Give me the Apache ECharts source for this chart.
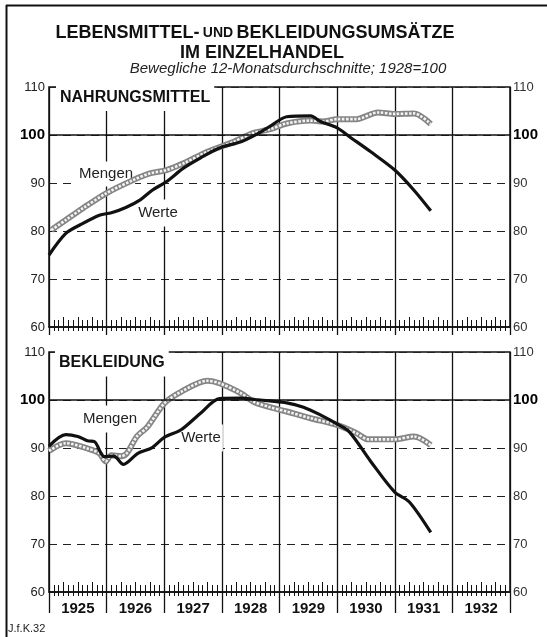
<!DOCTYPE html>
<html>
<head>
<meta charset="utf-8">
<script src="https://cdn.jsdelivr.net/npm/echarts@6/dist/echarts.min.js"></script>
<style>
  html, body { margin: 0; padding: 0; background: #fff; }
  #chart { width: 547px; height: 637px; }
</style>
</head>
<body>
<div id="chart"></div>
<script>
// months counted from Jan 1925
const years = ['1925', '1926', '1927', '1928', '1929', '1930', '1931', '1932'];

// Nahrungsmittel
const foodWerteMonths = [0, 3.5, 6.5, 10.5, 13, 16, 19, 21.5, 24.5, 28, 31.5, 35.5, 40, 43.5, 46, 49.5, 54.5, 56.5, 60, 62.5, 67, 72, 76, 79.5];
const foodWerte = [75, 79.5, 81.3, 83.3, 83.8, 84.9, 86.5, 88.5, 90.3, 93.1, 95.2, 97.3, 98.6, 100.3, 101.8, 103.8, 104, 102.8, 101.5, 99.7, 96.5, 92.7, 88.5, 84.2];
const foodMengenMonths = [0.5, 3.5, 7, 12, 17.5, 21, 24.5, 28, 33, 38.5, 42.5, 46, 49.5, 54.5, 57, 60, 64, 68.5, 72, 76, 79.5];
const foodMengen = [80.2, 82.3, 84.7, 87.9, 90.6, 92, 92.7, 94.1, 96.5, 98.6, 100.4, 101.2, 102.4, 103, 102.8, 103.3, 103.3, 104.7, 104.4, 104.5, 102.3];

// Bekleidung
const clothWerteMonths = [0, 3.5, 6, 8, 9.5, 11.5, 13.5, 15.5, 18.5, 21.5, 24, 27.5, 31.5, 35.5, 40, 43, 46, 49.5, 53, 56.5, 60, 62.5, 67, 72, 75, 79.5];
const clothWerte = [90.4, 92.8, 92.4, 91.5, 91.3, 88.2, 88.3, 86.6, 88.9, 90.1, 92.2, 93.8, 97.2, 100.3, 100.4, 100.1, 99.8, 99.4, 98.5, 96.9, 95, 93.4, 87.2, 80.8, 78.8, 72.4];
const clothMengenMonths = [0, 3.5, 8, 10.5, 11.8, 13, 15, 16.2, 18.3, 20.5, 24, 27.5, 33, 35.5, 40, 42.5, 46, 49.5, 54.5, 60, 64, 66.5, 72, 76, 79.5];
const clothMengen = [89.4, 91, 89.9, 88.9, 87.2, 88.5, 88.3, 88.9, 92.4, 94.4, 99.3, 101.7, 104, 103.5, 101.4, 99.7, 98.5, 97.6, 96.2, 94.8, 93.1, 91.8, 91.8, 92.4, 90.6];

const FONT = '"Liberation Sans", Arial, sans-serif';
const INK = '#111';

function pairs(xs, ys) {
  return xs.map((x, i) => [x, ys[i]]);
}

let xAxes = [], yAxes = [], series = [];

function addPanel(g, mengen, werte) {
  // main axis: year grid lines + baseline
  xAxes.push({
    type: 'value', gridIndex: g, min: 0, max: 96, interval: 12, position: 'bottom',
    axisLine: { show: true, lineStyle: { color: INK, width: 1.5 } },
    axisTick: { show: false }, axisLabel: { show: false },
    splitLine: { show: true, lineStyle: { color: INK, width: 1.3 } }
  });
  const mainIdx = xAxes.length - 1;
  // month ticks above baseline
  xAxes.push({
    type: 'value', gridIndex: g, min: 0, max: 96, interval: 3, position: 'bottom',
    axisLine: { show: false }, axisLabel: { show: false }, splitLine: { show: false },
    axisTick: { show: true, inside: true, length: 10, lineStyle: { color: INK, width: 1 } },
    minorTick: { show: true, splitNumber: 3, length: 7, lineStyle: { color: INK, width: 1 } }
  });
  // short month ticks below baseline
  xAxes.push({
    type: 'value', gridIndex: g, min: 0, max: 96, interval: 3, position: 'bottom',
    axisLine: { show: false }, axisLabel: { show: false }, splitLine: { show: false },
    axisTick: { show: true, inside: false, length: 4, lineStyle: { color: INK, width: 1 } },
    minorTick: { show: true, splitNumber: 3, length: 4, lineStyle: { color: INK, width: 1 } }
  });
  // years
  xAxes.push({
    type: 'category', gridIndex: g, data: years, position: 'bottom',
    axisLine: { show: false }, splitLine: { show: false },
    axisTick: { show: true, length: g === 1 ? 21 : 8, lineStyle: { color: INK, width: 1.3 } },
    axisLabel: { show: g === 1, margin: 9, fontFamily: FONT, fontSize: 15, fontWeight: 'bold', color: INK }
  });

  const labelFmt = v => v === 100 ? '{b|100}' : String(v);
  const rich = { b: { fontFamily: FONT, fontSize: 15, fontWeight: 'bold', color: '#000' } };
  yAxes.push({
    type: 'value', gridIndex: g, min: 60, max: 110, interval: 10, position: 'left',
    axisLine: { show: false }, axisTick: { show: false },
    axisLabel: { margin: 4, fontFamily: FONT, fontSize: 13, color: '#222', formatter: labelFmt, rich: rich },
    splitLine: { show: true, lineStyle: { color: '#222', width: 1.2, type: [8, 6] } }
  });
  const leftIdx = yAxes.length - 1;
  yAxes.push({
    type: 'value', gridIndex: g, min: 60, max: 110, interval: 10, position: 'right',
    axisLine: { show: false }, axisTick: { show: false },
    axisLabel: { margin: 3, fontFamily: FONT, fontSize: 13, color: '#333', formatter: labelFmt, rich: rich },
    splitLine: { show: false }
  });

  const base = { type: 'line', xAxisIndex: mainIdx, yAxisIndex: leftIdx, symbol: 'none', smooth: 0.3, silent: true };
  series.push(Object.assign({}, base, {
    name: 'Mengen', data: mengen, lineStyle: { color: '#858585', width: 6 }
  }));
  series.push(Object.assign({}, base, {
    name: 'Mengen', data: mengen, lineStyle: { color: '#f4f4f4', width: 2.6, type: [2.5, 1.5] }
  }));
  series.push(Object.assign({}, base, {
    name: 'Werte', data: werte, lineStyle: { color: INK, width: 3.2 },
    markLine: {
      silent: true, symbol: 'none', label: { show: false },
      lineStyle: { color: INK, width: 1.6, type: 'solid' },
      data: [{ yAxis: 100 }]
    }
  }));
}

addPanel(0, pairs(foodMengenMonths, foodMengen), pairs(foodWerteMonths, foodWerte));
addPanel(1, pairs(clothMengenMonths, clothMengen), pairs(clothWerteMonths, clothWerte));

function label(text, x, y, size, opts) {
  return Object.assign({
    type: 'text', z: 1, x: x, y: y,
    style: Object.assign({
      text: text, font: size + 'px ' + FONT, fill: INK,
      align: 'center', verticalAlign: 'middle',
      textAlign: 'center', textVerticalAlign: 'middle'
    }, opts || {})
  });
}

const chart = echarts.init(document.getElementById('chart'));
chart.setOption({
  animation: false,
  backgroundColor: '#fff',
  grid: [
    { left: 49, right: 37, top: 87, height: 240, show: true, borderColor: INK, borderWidth: 1.5 },
    { left: 49, right: 37, top: 352, height: 240, show: true, borderColor: INK, borderWidth: 1.5 }
  ],
  xAxis: xAxes,
  yAxis: yAxes,
  series: series,
  graphic: [
    // frame
    { type: 'line', z: 5, shape: { x1: 6.5, y1: 5, x2: 6.5, y2: 637 }, style: { stroke: INK, lineWidth: 2 } },
    { type: 'line', z: 5, shape: { x1: 6, y1: 5.5, x2: 547, y2: 5.5 }, style: { stroke: INK, lineWidth: 2 } },
    {
      type: 'text', z: 5, x: 255, y: 33,
      style: {
        text: '{a|LEBENSMITTEL-} {b|UND} {a|BEKLEIDUNGSUMSÄTZE}',
        align: 'center', verticalAlign: 'middle', textAlign: 'center', textVerticalAlign: 'middle',
        rich: {
          a: { fontFamily: FONT, fontSize: 18, fontWeight: 'bold', fill: INK, color: INK },
          b: { fontFamily: FONT, fontSize: 14, fontWeight: 'bold', fill: INK, color: INK }
        }
      }
    },
    label('IM EINZELHANDEL', 262, 53, 18, { font: 'bold 18px ' + FONT }),
    label('Bewegliche 12-Monatsdurchschnitte; 1928=100', 288, 69, 15, { font: 'italic 15px ' + FONT, fill: '#222' }),
    label('NAHRUNGSMITTEL', 56, 98, 16, {
      font: 'bold 16px ' + FONT, align: 'left', textAlign: 'left',
      backgroundColor: '#fff', padding: [5, 4, 5, 4]
    }),
    label('BEKLEIDUNG', 55, 363, 16, {
      font: 'bold 16px ' + FONT, align: 'left', textAlign: 'left',
      backgroundColor: '#fff', padding: [6, 4, 5, 4]
    }),
    label('Mengen', 106, 174, 15, { backgroundColor: '#fff', padding: [5, 2, 5, 2], fill: '#222' }),
    label('Werte', 158, 213, 15, { backgroundColor: '#fff', padding: [6, 2, 6, 2], fill: '#222' }),
    label('Mengen', 110, 419, 15, { backgroundColor: '#fff', padding: [6, 2, 6, 2], fill: '#222' }),
    label('Werte', 201, 438, 15, { backgroundColor: '#fff', padding: [6, 2, 6, 2], fill: '#222' }),
    label('J.f.K.32', 8, 629, 11, { align: 'left', textAlign: 'left', fill: '#222' })
  ]
});
</script>
</body>
</html>
